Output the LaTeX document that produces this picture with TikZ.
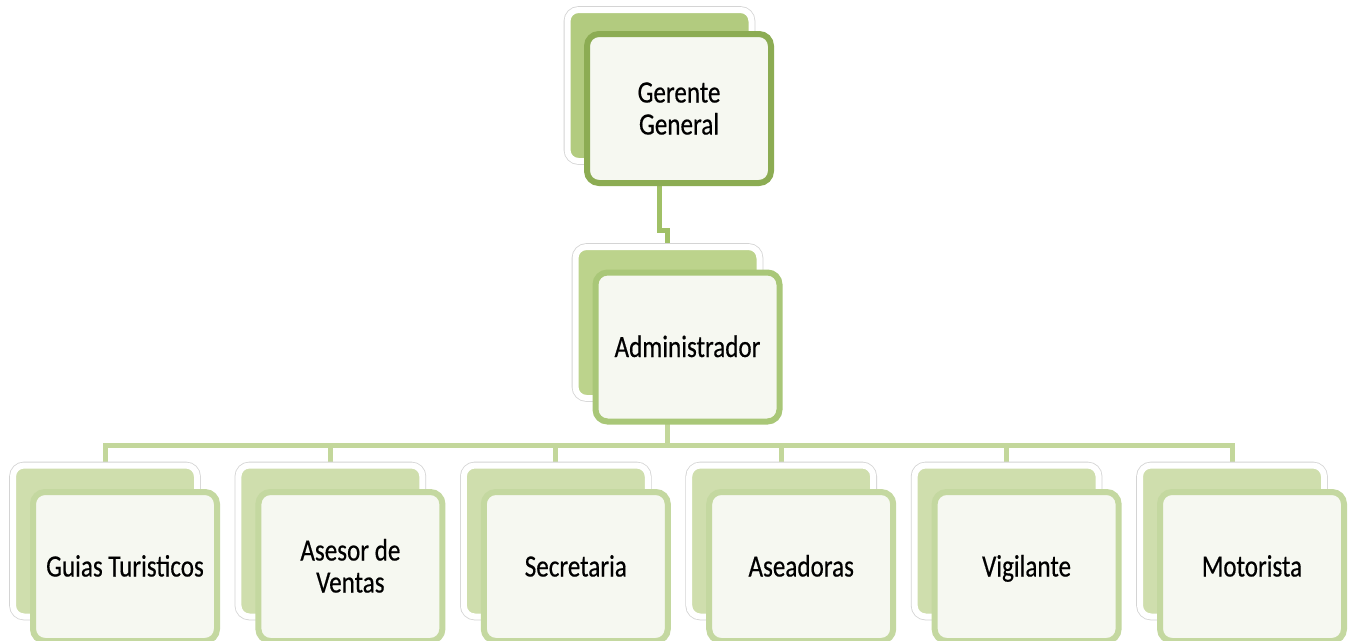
\documentclass[tikz,border=0pt]{standalone}
\usepackage{fontspec}
\newfontfamily\orgfont[FakeStretch=0.81,FakeBold=0.4]{Carlito}
\usetikzlibrary{calc}
\newcommand\ostrut{\rule[-6pt]{0pt}{32pt}}
\definecolor{lvlAback}{HTML}{B2CB7F}
\definecolor{lvlAline}{HTML}{8CAC53}
\definecolor{lvlBback}{HTML}{BCD38C}
\definecolor{lvlBline}{HTML}{A9C778}
\definecolor{lvlCback}{HTML}{CFDEAD}
\definecolor{lvlCline}{HTML}{C4D8A0}
\definecolor{frontfill}{HTML}{F6F8F1}
\definecolor{connA}{HTML}{A0C066}
\definecolor{connC}{HTML}{C3D79B}
\definecolor{edgegray}{HTML}{D4D4D4}
\pgfdeclarelayer{bgwhite}
\pgfdeclarelayer{bgconn}
\pgfsetlayers{bgwhite,bgconn,main}
\tikzset{
  backbox/.style={shape=rectangle, rounded corners=11pt, inner sep=0pt, outer sep=0pt,
    minimum width=184pt, minimum height=151pt, fill=#1, draw=white, line width=6pt,
    preaction={draw=edgegray, line width=7.6pt}},
  frontbox/.style={shape=rectangle, rounded corners=12pt, inner sep=0pt, outer sep=0pt,
    minimum width=184pt, minimum height=149pt, fill=frontfill, draw=#1, line width=6pt,
    align=center, font={\orgfont\fontsize{31}{32}\selectfont}, text=black},
  conn/.style={line width=5pt, draw=#1}
}
\begin{document}
\begin{tikzpicture}[x=1pt,y=-1pt]
\useasboundingbox (0,0) rectangle (1349,640);
\begin{pgfonlayer}{bgwhite}
\fill[white] (0,0) rectangle (1349,640);
\end{pgfonlayer}
\clip (0,0) rectangle (1349,640);

% level 1
\node[backbox=lvlAback] (gerB) at (659.5,85.5) {};
\node[frontbox=lvlAline] (gerF) at (679,108.5) {\ostrut Gerente\\\ostrut General};

% level 2
\node[backbox=lvlBback] (admB) at (667.5,322.5) {};
\node[frontbox=lvlBline] (admF) at (687.5,347) {\ostrut Administrador};

% level 3
\node[backbox=lvlCback] (c1B) at (105,541) {};
\node[frontbox=lvlCline] (c1F) at (125,566.5) {\ostrut Guias Turisticos};
\node[backbox=lvlCback] (c2B) at (330.4,541) {};
\node[frontbox=lvlCline] (c2F) at (350.4,566.5) {\ostrut Asesor de\\\ostrut Ventas};
\node[backbox=lvlCback] (c3B) at (555.8,541) {};
\node[frontbox=lvlCline] (c3F) at (575.8,566.5) {\ostrut Secretaria};
\node[backbox=lvlCback] (c4B) at (781.2,541) {};
\node[frontbox=lvlCline] (c4F) at (801.2,566.5) {\ostrut Aseadoras};
\node[backbox=lvlCback] (c5B) at (1006.6,541) {};
\node[frontbox=lvlCline] (c5F) at (1026.6,566.5) {\ostrut Vigilante};
\node[backbox=lvlCback] (c6B) at (1232,541) {};
\node[frontbox=lvlCline] (c6F) at (1252,566.5) {\ostrut Motorista};

\coordinate (jog) at (0,230);
\coordinate (bar) at (0,445);
\begin{pgfonlayer}{bgconn}
\draw[conn=connA] (gerB.center |- gerF.south) -- (gerB.center |- jog) -| (admB.north);
\draw[conn=connC] (admB.center |- admF.south) -- (admB.center |- bar);
\draw[conn=connC] (c1B.north) |- (c6B.north |- bar) -- (c6B.north);
\foreach \n in {c2B,c3B,c4B,c5B}
  \draw[conn=connC] (\n.north |- bar) -- (\n.north);
\end{pgfonlayer}
\end{tikzpicture}
\end{document}
